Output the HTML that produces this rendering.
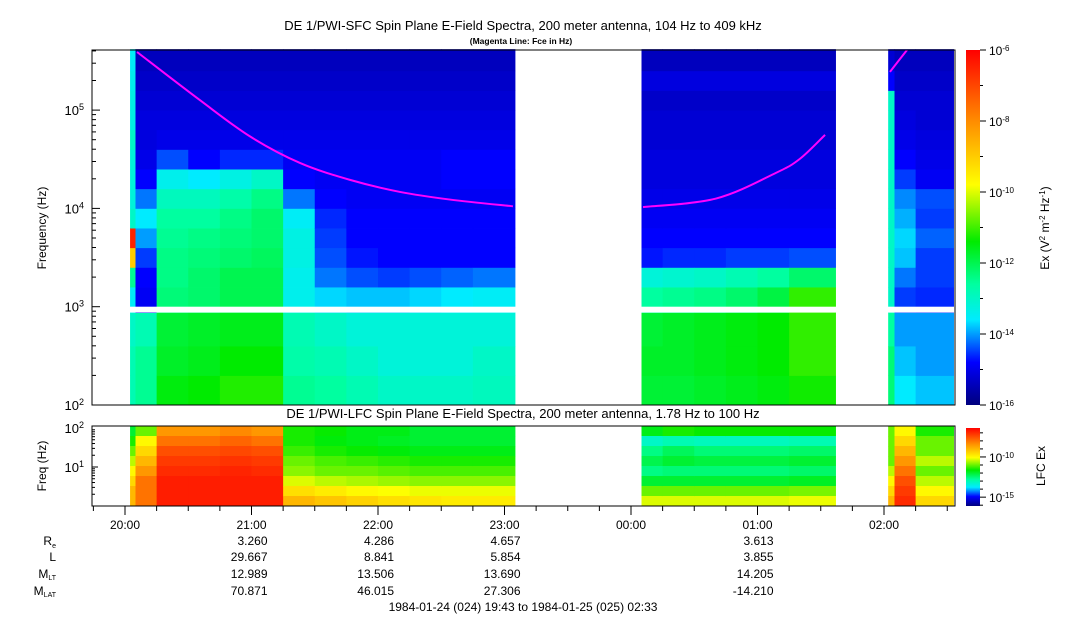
<!DOCTYPE html>
<html><head><meta charset="utf-8">
<style>
html,body{margin:0;padding:0;background:#fff;}
body{width:1083px;height:620px;overflow:hidden;font-family:"Liberation Sans",sans-serif;}
svg text{font-family:"Liberation Sans",sans-serif;fill:#000;}
</style></head>
<body>
<svg id="chart" width="1083" height="620" viewBox="0 0 1083 620" xmlns="http://www.w3.org/2000/svg">
<defs>
<linearGradient id="cbar" x1="0" y1="1" x2="0" y2="0">
<stop offset="0" stop-color="rgb(0,0,125)"/>
<stop offset="0.12" stop-color="rgb(0,0,255)"/>
<stop offset="0.24" stop-color="rgb(0,235,255)"/>
<stop offset="0.34" stop-color="rgb(0,255,160)"/>
<stop offset="0.46" stop-color="rgb(0,235,0)"/>
<stop offset="0.62" stop-color="rgb(255,255,0)"/>
<stop offset="0.80" stop-color="rgb(255,140,0)"/>
<stop offset="1" stop-color="rgb(255,0,0)"/>
</linearGradient>
</defs>
<text x="523" y="30" font-size="13" text-anchor="middle">DE 1/PWI-SFC  Spin Plane E-Field Spectra, 200 meter antenna, 104 Hz to 409 kHz</text>
<text x="521" y="44" font-size="8.5" font-weight="bold" text-anchor="middle">(Magenta Line: Fce in Hz)</text>
<g id="sfc"></g>
<g id="lfc"></g>
<text x="523" y="418" font-size="13" text-anchor="middle">DE 1/PWI-LFC  Spin Plane E-Field Spectra, 200 meter antenna, 1.78 Hz to 100 Hz</text>
<text transform="translate(46,228) rotate(-90)" font-size="12" text-anchor="middle">Frequency (Hz)</text>
<text transform="translate(46,466) rotate(-90)" font-size="12" text-anchor="middle">Freq (Hz)</text>
<text transform="translate(1049,228) rotate(-90)" font-size="12" text-anchor="middle">Ex (V<tspan baseline-shift="super" font-size="8">2</tspan> m<tspan baseline-shift="super" font-size="8">-2</tspan> Hz<tspan baseline-shift="super" font-size="8">-1</tspan>)</text>
<text transform="translate(1045,466) rotate(-90)" font-size="12" text-anchor="middle">LFC Ex</text>
<g id="axis"></g>
<g id="table" font-size="12">
<text x="56" y="545" text-anchor="end">R<tspan font-size="7" dy="3">e</tspan></text>
<text x="56" y="561" text-anchor="end">L</text>
<text x="56" y="578" text-anchor="end">M<tspan font-size="7" dy="2">LT</tspan></text>
<text x="56" y="595" text-anchor="end">M<tspan font-size="7" dy="2">LAT</tspan></text>
<text x="523" y="611" text-anchor="middle">1984-01-24 (024) 19:43 to 1984-01-25 (025) 02:33</text>
</g>
</svg>
<script>
// ---- data ----
const tickHours = [0,1,2,3,4,5,6];
const tickLabels = ["20:00","21:00","22:00","23:00","00:00","01:00","02:00"];
const ephemHours = [1,2,3,5];
const reVals = ["3.260","4.286","4.657","3.613"];
const lVals = ["29.667","8.841","5.854","3.855"];
const mltVals = ["12.989","13.506","13.690","14.205"];
const mlatVals = ["70.871","46.015","27.306","-14.210"];
// SFC frequency row edges (log10 Hz)
const sfcRowEdges = [2.0,2.3,2.6,2.94,3.2,3.4,3.6,3.8,4.0,4.2,4.4,4.6,4.8,5.0,5.2,5.4,5.62];
// time bin edges (hours after 20:00) per data segment
const binEdgesA = [0.04,0.083,0.25,0.5,0.75,1.0,1.25,1.5,1.75,2.0,2.25,2.5,2.75,3.083];
const binEdgesB = [4.083,4.25,4.5,4.75,5.0,5.25,5.617];
const binEdgesC = [6.033,6.083,6.25,6.55];
// SFC log10 spectral density, each column bottom->top
const sfcA = [
 [-12.8,-12.8,-13,-13.5,-12.5,-9,-6.5,-13,-13.2,-13.2,-13.2,-13,-13.3,-13.3,-13.4,-13.5],
 [-12.5,-12.5,-12.8,-14.9,-14.8,-14.5,-14,-13.6,-14.2,-14.8,-15,-15.1,-15.1,-15.2,-15.3,-15.4],
 [-11.5,-11.7,-11.8,-12.3,-12.4,-12.4,-12.5,-12.6,-12.9,-13.4,-14.4,-15,-15.1,-15.2,-15.3,-15.4],
 [-11.4,-11.6,-11.7,-12.2,-12.2,-12.3,-12.4,-12.6,-12.9,-13.6,-14.8,-15,-15.1,-15.2,-15.3,-15.4],
 [-11.2,-11.4,-11.6,-12,-12,-12.2,-12.3,-12.4,-12.7,-13.3,-14.6,-15,-15.1,-15.2,-15.3,-15.4],
 [-11.2,-11.4,-11.6,-12,-12,-12.1,-12.2,-12.2,-12.4,-13,-14.6,-15,-15.1,-15.2,-15.3,-15.4],
 [-12.5,-12.7,-12.8,-13.4,-13.4,-13.3,-13.3,-13.5,-14.2,-14.8,-14.9,-15,-15.1,-15.2,-15.3,-15.4],
 [-12.6,-12.8,-13,-13.7,-14.2,-14.4,-14.5,-14.6,-14.8,-14.9,-14.9,-15,-15.1,-15.2,-15.3,-15.4],
 [-12.8,-13,-13.2,-13.8,-14.4,-14.7,-14.8,-14.8,-14.9,-14.9,-14.9,-15,-15.1,-15.2,-15.3,-15.4],
 [-13,-13.2,-13.2,-13.8,-14.5,-14.8,-14.8,-14.8,-14.9,-14.9,-14.9,-15,-15.1,-15.2,-15.3,-15.4],
 [-13,-13.2,-13.2,-13.7,-14.4,-14.8,-14.8,-14.8,-14.9,-14.9,-14.9,-15,-15.1,-15.2,-15.3,-15.4],
 [-13,-13.2,-13.2,-13.6,-14.3,-14.8,-14.8,-14.8,-14.9,-14.8,-14.8,-15,-15.1,-15.2,-15.3,-15.4],
 [-12.9,-13,-13.2,-13.5,-14.2,-14.8,-14.8,-14.8,-14.9,-14.8,-14.8,-15,-15.1,-15.2,-15.3,-15.4]
];
const sfcB = [
 [-11.8,-11.7,-11.8,-12.6,-13.2,-14.7,-14.8,-14.9,-15,-15.1,-15.1,-15.2,-15.2,-15.3,-15.1,-15.4],
 [-11.8,-11.7,-11.7,-12.5,-13.1,-14.6,-14.8,-14.9,-15,-15.1,-15.1,-15.2,-15.2,-15.3,-15.1,-15.4],
 [-11.7,-11.6,-11.6,-12.4,-13,-14.6,-14.8,-14.9,-15,-15.1,-15.1,-15.2,-15.2,-15.3,-15.1,-15.4],
 [-11.6,-11.5,-11.5,-12.2,-12.8,-14.5,-14.8,-14.9,-15,-15.1,-15.1,-15.2,-15.2,-15.3,-15.1,-15.4],
 [-11.5,-11.4,-11.4,-11.9,-12.6,-14.5,-14.8,-14.9,-15,-15.1,-15.1,-15.2,-15.2,-15.3,-15.1,-15.4],
 [-11.3,-11.1,-11.1,-11.1,-12.2,-14.4,-14.8,-14.9,-15,-15.1,-15.1,-15.2,-15.2,-15.3,-15.1,-15.4]
];
const sfcC = [
 [-12.3,-12.3,-12.6,-13,-13,-13,-13,-13,-13,-13,-13,-13,-13,-13,-14.8,-15.2],
 [-13.6,-13.8,-14,-14.5,-14.2,-13.8,-13.7,-13.9,-14.1,-14.5,-14.8,-15,-15.1,-15.2,-15.3,-15.4],
 [-13.8,-14,-14,-14.6,-14.5,-14.5,-14.3,-14.5,-14.4,-14.9,-15,-15.1,-15.2,-15.2,-15.3,-15.4]
];
// LFC: 8 rows each column top->bottom
const lfcA = [
 [-12,-11.5,-11,-10.5,-10,-9.5,-9,-9],
 [-11,-10,-9.5,-9,-8.5,-8,-8,-8],
 [-8.5,-8,-7.5,-7.2,-7,-6.8,-6.8,-6.8],
 [-8.5,-8,-7.5,-7.2,-7,-6.8,-6.8,-6.8],
 [-8.3,-7.8,-7.4,-7.1,-6.9,-6.8,-6.8,-6.8],
 [-8.5,-8,-7.5,-7.2,-7,-6.8,-6.8,-6.8],
 [-11.5,-11.5,-11.3,-11,-10.8,-10.3,-9.6,-9],
 [-11.6,-11.7,-11.5,-11.2,-11,-10.5,-9.8,-9.2],
 [-11.8,-11.8,-11.6,-11.3,-11,-10.6,-10,-9.4],
 [-11.8,-11.9,-11.7,-11.4,-11.1,-10.7,-10.1,-9.6],
 [-12,-12,-11.8,-11.5,-11.2,-10.8,-10.2,-9.7],
 [-12,-12,-11.8,-11.5,-11.2,-10.8,-10.2,-9.8],
 [-12,-12,-11.8,-11.5,-11.2,-10.8,-10.2,-9.8]
];
const lfcB = [
 [-11.8,-13.2,-12.6,-12.2,-12.6,-12,-11,-10.3],
 [-11.5,-13,-12.3,-12,-12.5,-12,-11,-10.3],
 [-11.6,-13.1,-12.5,-12.1,-12.5,-12,-11,-10.3],
 [-11.6,-13.1,-12.5,-12.1,-12.5,-12,-11,-10.3],
 [-11.6,-13.1,-12.5,-12.1,-12.5,-12,-11,-10.3],
 [-11.6,-13,-12.4,-12,-12.4,-11.9,-10.9,-10.2]
];
const lfcC = [
 [-11,-11,-11,-11,-10.5,-10,-9.5,-9],
 [-10,-9.5,-9,-8.5,-8,-7.5,-7.2,-7],
 [-11.5,-11,-11,-10.5,-11,-10.5,-10,-9.5]
];
// electron gyrofrequency (Fce) samples: hours after 20:00, Hz
const fceTimes1 = [0.095,0.593,0.988,1.383,1.779,2.174,2.569,3.067];
const fceVals1  = [390000,126000,54000,29000,19500,14700,12300,10500];
const fceTimes2 = [4.095,4.672,5.146,5.336,5.534];
const fceVals2  = [10300,12600,23000,32000,56000];
const fceTimes3 = [6.047,6.182];
const fceVals3  = [245000,409000];

// ---- scales ----
const X0=92, X1=955;
const xOf = h => 125 + h*126.5;
const SFC_TOP=50, SFC_BOT=405;
const yF = lf => SFC_BOT - (lf-2)*98.3;
const LFC_TOP=426, LFC_BOT=506;
const NS="http://www.w3.org/2000/svg";
function mk(tag, attrs, parent){const e=document.createElementNS(NS,tag);for(const k in attrs)e.setAttribute(k,attrs[k]);parent.appendChild(e);return e;}
const stops=[[0,[0,0,125]],[0.12,[0,0,255]],[0.24,[0,235,255]],[0.34,[0,255,160]],[0.46,[0,235,0]],[0.62,[255,255,0]],[0.80,[255,140,0]],[1,[255,0,0]]];
function cmap(f){f=Math.max(0,Math.min(1,f));for(let i=1;i<stops.length;i++){if(f<=stops[i][0]){const a=stops[i-1],b=stops[i];const t=(f-a[0])/(b[0]-a[0]);const c=a[1].map((v,j)=>Math.round(v+(b[1][j]-v)*t));return `rgb(${c[0]},${c[1]},${c[2]})`;}}return 'rgb(255,0,0)';}

const sfc=document.getElementById('sfc');
const lfc=document.getElementById('lfc');
function drawSfc(edges, cols){
  for(let i=0;i<cols.length;i++){
    const xa=xOf(edges[i]), xb=xOf(edges[i+1]);
    for(let r=0;r<cols[i].length;r++){
      const ya=yF(sfcRowEdges[r+1]), yb=yF(sfcRowEdges[r]);
      const el=mk('rect',{x:xa.toFixed(2),y:ya.toFixed(2),width:(xb-xa+0.4).toFixed(2),height:(yb-ya+0.4).toFixed(2),fill:cmap((cols[i][r]+16)/10)},sfc);
      
      
    }
  }
}
drawSfc(binEdgesA,sfcA);drawSfc(binEdgesB,sfcB);drawSfc(binEdgesC,sfcC);
const gap=mk('rect',{x:X0,y:yF(3.0),width:X1-X0,height:(yF(2.94)-yF(3.0)),fill:'#fff'},sfc);


function fcePath(ts,vs){
  const p=ts.map((t,i)=>[xOf(t),yF(Math.log10(vs[i]))]);
  let d=`M${p[0][0]},${p[0][1]}`;
  for(let i=0;i<p.length-1;i++){
    const p0=p[Math.max(0,i-1)],p1=p[i],p2=p[i+1],p3=p[Math.min(p.length-1,i+2)];
    const c1=[p1[0]+(p2[0]-p0[0])/6,p1[1]+(p2[1]-p0[1])/6];
    const c2=[p2[0]-(p3[0]-p1[0])/6,p2[1]-(p3[1]-p1[1])/6];
    d+=` C${c1[0]},${c1[1]} ${c2[0]},${c2[1]} ${p2[0]},${p2[1]}`;
  }
  const el=mk('path',{d:d,fill:'none',stroke:'#ff00ff','stroke-width':2},sfc);
  
  
}
fcePath(fceTimes1,fceVals1);fcePath(fceTimes2,fceVals2);fcePath(fceTimes3,fceVals3);
const sfcFrame=mk('rect',{x:X0,y:SFC_TOP,width:X1-X0,height:SFC_BOT-SFC_TOP,fill:'none',stroke:'#000','stroke-width':1},sfc);


for(let d=2;d<=5;d++){
  for(let m=1;m<10;m++){
    const lf=d+Math.log10(m); if(lf>5.62) break;
    const y=yF(lf);
    const t=mk('line',{x1:X0,x2:X0+(m==1?8:4),y1:y,y2:y,stroke:'#000'},sfc);
    
    
  }
  const tx=mk('text',{x:X0-8,y:yF(d)+5,'font-size':13,'text-anchor':'end'},sfc);
  tx.innerHTML=`10<tspan baseline-shift="super" font-size="9">${d}</tspan>`;
  
  
}
const cb=mk('rect',{x:966,y:50,width:14,height:355,fill:'url(#cbar)'},sfc);


for(let v=-16;v<=-6;v++){
  const y=405-(v+16)*35.5;
  const t=mk('line',{x1:980,x2:v%2==0?986:983,y1:y,y2:y,stroke:'#000'},sfc);
  
  
  if(v%2==0){
    const tx=mk('text',{x:989,y:y+5,'font-size':12},sfc);
    tx.innerHTML=`10<tspan baseline-shift="super" font-size="8">${v}</tspan>`;
    
    
  }
}
function drawLfc(edges,cols){
  const rh=(LFC_BOT-LFC_TOP)/8;
  for(let i=0;i<cols.length;i++){
    const xa=xOf(edges[i]),xb=xOf(edges[i+1]);
    for(let r=0;r<8;r++){
      const el=mk('rect',{x:xa.toFixed(2),y:(LFC_TOP+r*rh).toFixed(2),width:(xb-xa+0.4).toFixed(2),height:(rh+0.4).toFixed(2),fill:cmap((cols[i][r]+16.1)/9.7)},lfc);
      
      
    }
  }
}
drawLfc(binEdgesA,lfcA);drawLfc(binEdgesB,lfcB);drawLfc(binEdgesC,lfcC);
const lfFrame=mk('rect',{x:X0,y:LFC_TOP,width:X1-X0,height:LFC_BOT-LFC_TOP,fill:'none',stroke:'#000'},lfc);


const yL = lf => 428 + (2-lf)*39;
for(let d=0;d<=1;d++){
  for(let m=1;m<10;m++){
    const lf=d+Math.log10(m); if(lf<0.25) continue;
    const y=yL(lf);
    const t=mk('line',{x1:X0,x2:X0+(m==1?6:3),y1:y,y2:y,stroke:'#000'},lfc);
    
    
  }
}
[[2,'2'],[1,'1']].forEach(([lf,s])=>{
  const tx=mk('text',{x:X0-8,y:yL(lf)+5,'font-size':13,'text-anchor':'end'},lfc);
  tx.innerHTML=`10<tspan baseline-shift="super" font-size="9">${s}</tspan>`;
  
  
});
const lcb=mk('rect',{x:966,y:428,width:14,height:78,fill:'url(#cbar)'},lfc);


for(let v=-16;v<=-7;v++){
  const y=506-(v+16.1)*8.04;
  const t=mk('line',{x1:980,x2:v%5==0?986:983,y1:y,y2:y,stroke:'#000'},lfc);
  
  
  if(v%5==0){
    const tx=mk('text',{x:989,y:y+5,'font-size':12},lfc);
    tx.innerHTML=`10<tspan baseline-shift="super" font-size="8">${v}</tspan>`;
    
    
  }
}
const ax=document.getElementById('axis');
for(let q=-1;q<=26;q++){
  const x=xOf(q/4); if(x<X0||x>X1) continue;
  const t=mk('line',{x1:x,x2:x,y1:LFC_BOT,y2:LFC_BOT+(q%4==0?9:5),stroke:'#000'},ax);
  
  
}
tickHours.forEach((h,i)=>{
  const tx=mk('text',{x:xOf(h),y:529,'font-size':12,'text-anchor':'middle'},ax);
  tx.textContent=tickLabels[i];
  
  
});
const tb=document.getElementById('table');
[[reVals,545,'re-value'],[lVals,561,'l-value'],[mltVals,578,'mlt-value'],[mlatVals,595,'mlat-value']].forEach(([arr,y,nm])=>{
  arr.forEach((v,i)=>{
    const tx=mk('text',{x:xOf(ephemHours[i])+16,y:y,'text-anchor':'end'},tb);
    tx.textContent=v;
    
    
  });
});
</script>
</body></html>
